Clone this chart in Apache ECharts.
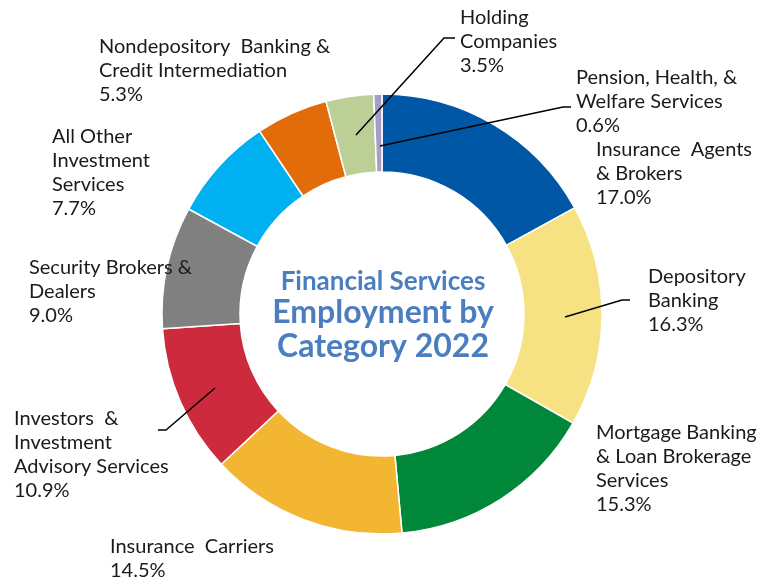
<!DOCTYPE html>
<html><head><meta charset="utf-8">
<script src="https://cdn.jsdelivr.net/npm/echarts@6/dist/echarts.min.js"></script>
<style>html,body{margin:0;padding:0;background:#fff}#c{width:766px;height:580px}</style>
</head><body><div id="c"></div>
<script>
const categories = [
  'Insurance  Agents\n& Brokers',
  'Depository\nBanking',
  'Mortgage Banking\n& Loan Brokerage\nServices',
  'Insurance  Carriers',
  'Investors  &\nInvestment\nAdvisory Services',
  'Security Brokers &\nDealers',
  'All Other\nInvestment\nServices',
  'Nondepository  Banking &\nCredit Intermediation',
  'Holding\nCompanies',
  'Pension, Health, &\nWelfare Services'
];
const shares = [17.0, 16.3, 15.3, 14.5, 10.9, 9.0, 7.7, 5.3, 3.5, 0.6];
const colors = ['#0057A6','#F6E283','#00873A','#F2B632','#CD2A3E','#808080','#00B0F0','#E36C0A','#BCCF97','#A49DC8'];

// label layout (positions only)
const labelPos = [
  {x:596, y:138},
  {x:648, y:265, line:[[565,317],[622,300],[630,300]]},
  {x:596, y:421},
  {x:110, y:535},
  {x:14, y:407, line:[[215,388],[166,430],[158,430]]},
  {x:29, y:256},
  {x:52, y:125},
  {x:99, y:35},
  {x:460, y:6, line:[[356,135],[444,38],[455,38]]},
  {x:576, y:66, line:[[380,146],[563,107],[571,107]]}
];

const chart = echarts.init(document.getElementById('c'));
chart.setOption({
  animation: false,
  title: {
    text: '{a|Financial Services}\n{b|Employment by}\n{b|Category 2022}',
    left: 'center', top: 263,
    textStyle: {
      rich: {
        a: {fontFamily: 'Lato', fontWeight: 'bold', fontSize: 26, color: '#4A7EC0', lineHeight: 28, align: 'center'},
        b: {fontFamily: 'Lato', fontWeight: 'bold', fontSize: 32, color: '#4A7EC0', lineHeight: 34, align: 'center'}
      }
    }
  },
  graphic: labelPos.filter(p => p.line).map(p => ({
    type: 'polyline', z: 10,
    shape: {points: p.line},
    style: {stroke: '#000', lineWidth: 1.5, fill: null}
  })),
  series: [{
    type: 'pie',
    center: [382, 314],
    radius: [142, 220],
    startAngle: 90,
    clockwise: true,
    avoidLabelOverlap: false,
    itemStyle: {borderColor: '#fff', borderWidth: 1.5},
    label: {
      show: true, position: 'outside',
      fontFamily: 'Lato', fontSize: 20, lineHeight: 24, color: '#1a1a1a',
      formatter: p => p.name + '\n' + p.value.toFixed(1) + '%'
    },
    labelLine: {show: false},
    labelLayout: function (params) {
      const p = labelPos[params.dataIndex];
      return {x: p.x, y: p.y, align: 'left', verticalAlign: 'top'};
    },
    data: categories.map((n, i) => ({
      name: n, value: shares[i],
      itemStyle: {color: colors[i]}
    }))
  }]
});
</script></body></html>
